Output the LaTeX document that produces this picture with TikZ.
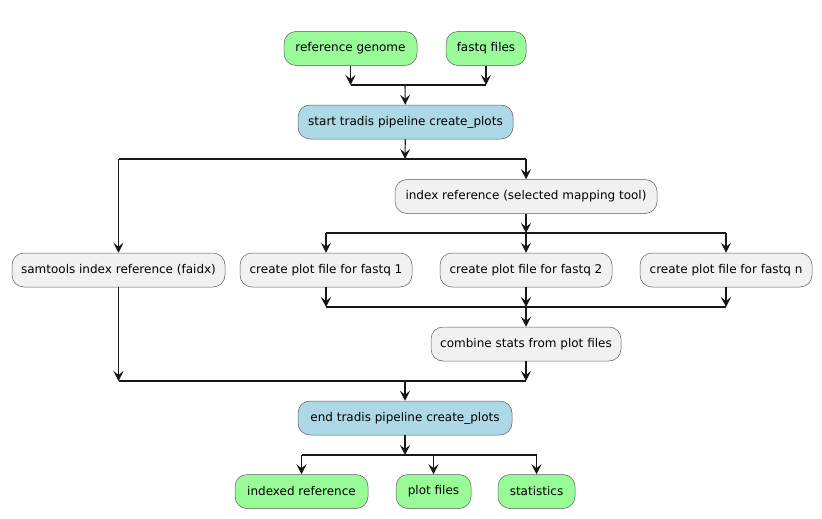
\documentclass[tikz,border=0pt]{standalone}
\usepackage{fontspec}
\setmainfont{DejaVu Sans}
\usetikzlibrary{positioning, arrows.meta, calc}
\definecolor{iogreen}{HTML}{98FB98}
\definecolor{pipeblue}{HTML}{ADD8E6}
\definecolor{stepgray}{HTML}{F1F1F1}
\definecolor{linedark}{HTML}{181818}

\begin{document}
\begin{tikzpicture}[
    x=1pt, y=-1pt,
    >={Stealth[length=10pt, width=10pt, inset=4pt]},
    act/.style={draw=linedark!70, line width=0.5pt, rounded corners=12pt,
        minimum height=34pt, inner xsep=4pt, fill=stepgray,
        font=\fontsize{12}{14}\selectfont},
    io/.style={act, fill=iogreen},
    pipe/.style={act, fill=pipeblue},
    flow/.style={draw=linedark, line width=1.1pt}
]
    \useasboundingbox (0,0) rectangle (822,519);

    % Inputs
    \node[io, minimum width=133pt] (ref)   at (350.5, 48.5) {reference genome};
    \node[io, minimum width=80pt]  (fastq) at (486, 48.5)   {fastq files};

    % Pipeline start
    \node[pipe, minimum width=215pt] (start) at (405.5, 122) {start tradis pipeline create\_plots};

    % Branches
    \node[act, minimum width=213pt] (sam) at (118.5, 270) {samtools index reference (faidx)};
    \node[act, minimum width=262pt] (idx) at (526, 196.5) {index reference (selected mapping tool)};
    \node[act, minimum width=172pt] (p1)  at (326, 270) {create plot file for fastq 1};
    \node[act, minimum width=172pt] (p2)  at (526, 270) {create plot file for fastq 2};
    \node[act, minimum width=172pt] (pn)  at (726, 270) {create plot file for fastq n};
    \node[act, minimum width=190pt] (comb) at (526, 344) {combine stats from plot files};

    % Pipeline end
    \node[pipe, minimum width=214pt] (end) at (405, 418) {end tradis pipeline create\_plots};

    % Outputs
    \node[io, minimum width=133pt] (oref)  at (301.5, 491.5) {indexed reference};
    \node[io, minimum width=75pt]  (oplot) at (433.5, 491.5) {plot files};
    \node[io, minimum width=77pt]  (ostat) at (536.5, 491.5) {statistics};

    % Fork / join bars
    \coordinate (inbar)  at (405, 85);
    \coordinate (forkA)  at (405, 159);
    \coordinate (forkB)  at (526, 233);
    \coordinate (joinB)  at (526, 307);
    \coordinate (joinA)  at (405, 381);
    \coordinate (outbar) at (405, 455);

    % Inputs -> start
    \draw[flow, ->] (ref) -- (ref |- inbar);
    \draw[flow, ->] (fastq) -- (fastq |- inbar);
    \draw[flow] (ref |- inbar) -- (fastq |- inbar);
    \draw[flow, ->] (inbar) -- (start);

    % Start -> branches
    \draw[flow, ->] (start) -- (forkA);
    \draw[flow] (sam |- forkA) -- (idx |- forkA);
    \draw[flow, ->] (sam |- forkA) -- (sam);
    \draw[flow, ->] (idx |- forkA) -- (idx);

    % Index -> plot files
    \draw[flow, ->] (idx) -- (forkB);
    \draw[flow] (p1 |- forkB) -- (pn |- forkB);
    \foreach \p in {p1, p2, pn}
        \draw[flow, ->] (\p |- forkB) -- (\p);

    % Plot files -> combine
    \foreach \p in {p1, p2, pn}
        \draw[flow, ->] (\p) -- (\p |- joinB);
    \draw[flow] (p1 |- joinB) -- (pn |- joinB);
    \draw[flow, ->] (joinB) -- (comb);

    % Join -> end
    \draw[flow, ->] (sam) -- (sam |- joinA);
    \draw[flow, ->] (comb) -- (comb |- joinA);
    \draw[flow] (sam |- joinA) -- (comb |- joinA);
    \draw[flow, ->] (joinA) -- (end);

    % End -> outputs
    \draw[flow, ->] (end) -- (outbar);
    \draw[flow] (oref |- outbar) -- (ostat |- outbar);
    \foreach \o in {oref, oplot, ostat}
        \draw[flow, ->] (\o |- outbar) -- (\o);
\end{tikzpicture}
\end{document}
